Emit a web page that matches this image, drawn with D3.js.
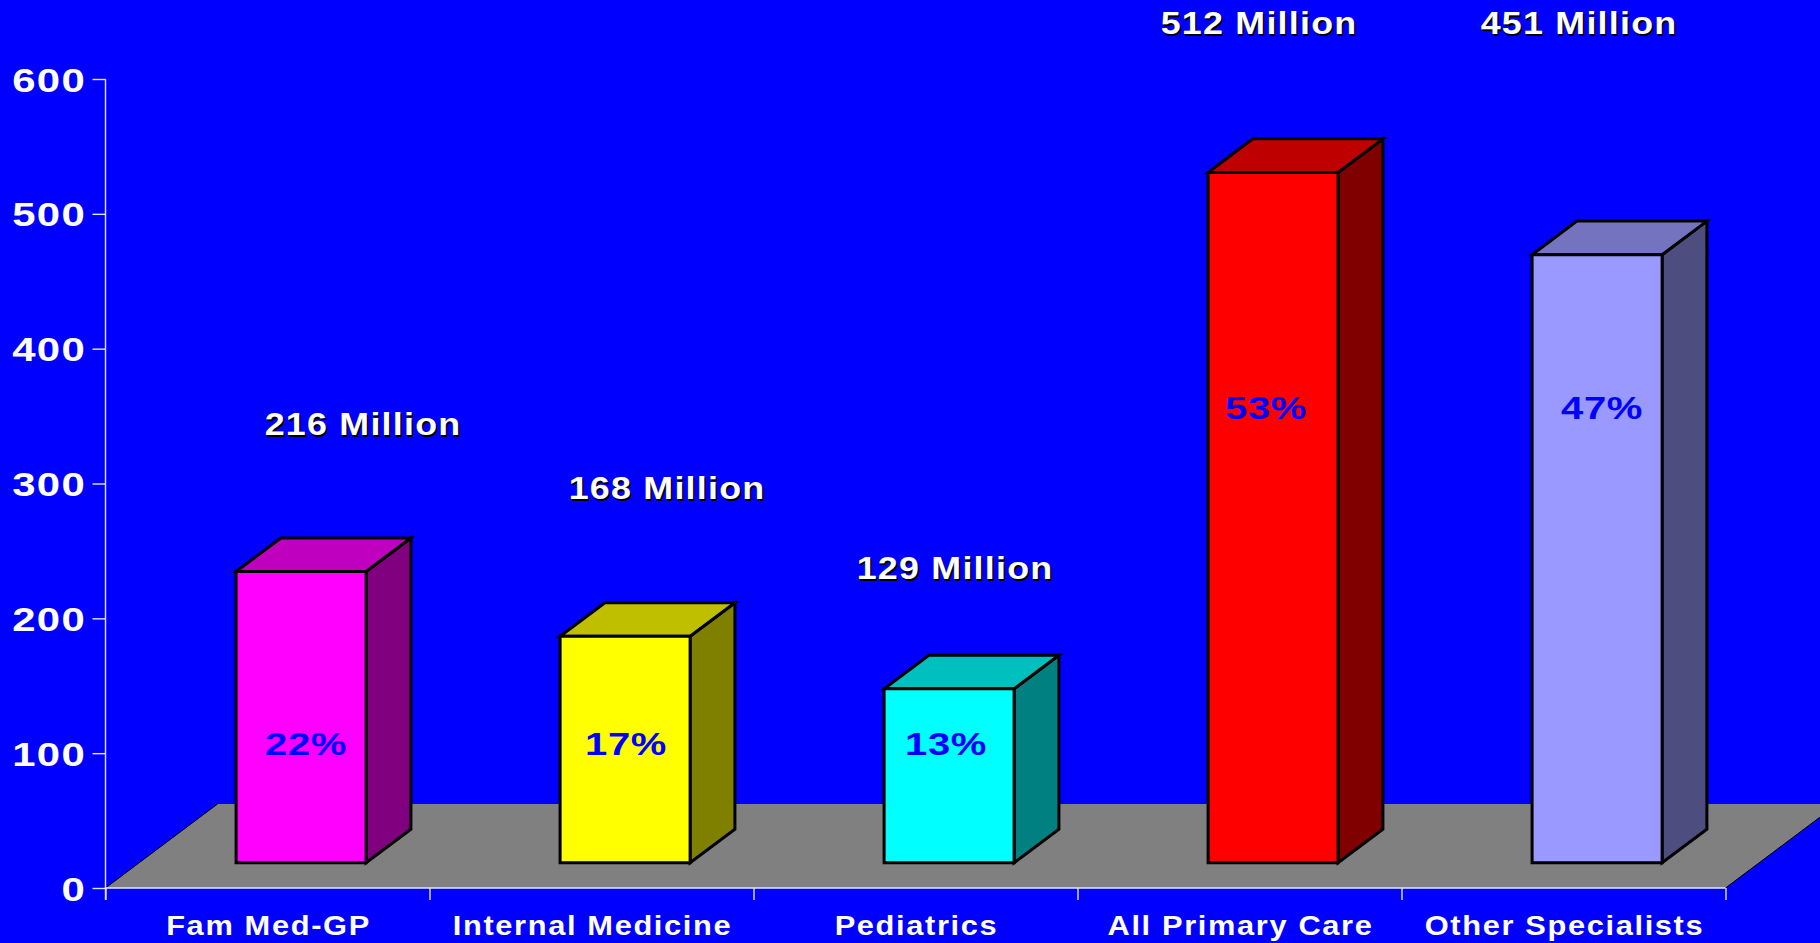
<!DOCTYPE html>
<html>
<head>
<meta charset="utf-8">
<style>
html,body{margin:0;padding:0;background:#0000ff;overflow:hidden}
svg{display:block}
text{font-family:"Liberation Sans",Arial,sans-serif;font-weight:700}
</style>
<script src="https://cdn.jsdelivr.net/npm/d3@7/dist/d3.min.js"></script>
</head>
<body>
<svg id="chart" width="1820" height="943"></svg>
<script>
// Office visits by physician group
const categories = ["Fam Med-GP", "Internal Medicine", "Pediatrics", "All Primary Care", "Other Specialists"];
const visits = [216, 168, 129, 512, 451];
const shares = [22, 17, 13, 53, 47];
const yTicks = [0, 100, 200, 300, 400, 500, 600];

// Face colours per bar: front, top, side
const frontColors = ["#ff00ff", "#ffff00", "#00ffff", "#ff0000", "#9999ff"];
const topColors = ["#bf00bf", "#bfbf00", "#00bfbf", "#bf0000", "#7373bf"];
const sideColors = ["#800080", "#808000", "#008080", "#800000", "#4d4d80"];

// Hand-placed annotation offsets
const millionX = [363, 667, 955, 1259, 1579];
const millionBaseline = [435, 499, 579, 34, 34];
const shareX = [306, 626, 946, 1266, 1602];
const shareBaseline = [755, 755, 755, 419, 419];

const svg = d3.select("#chart");
const x = d3.scaleBand().domain(categories).range([105.5, 1725.5]);
const y = d3.scaleLinear().domain([0, 600]).range([888, 79]);

// Oblique projection of the floor and the bars standing on it
const floorDx = 112, floorDy = 84;
const barInset = 0.3, barDepth = 0.4, barWidth = 130;

const x0 = x.range()[0], x1 = x.range()[1], y0 = y(0);

svg.append("polygon")
  .attr("points", [[x0, y0], [x1, y0], [x1 + floorDx, y0 - floorDy], [x0 + floorDx, y0 - floorDy]].join(" "))
  .attr("fill", "#808080");
svg.append("path")
  .attr("d", `M${x0},${y0}L${x0 + floorDx},${y0 - floorDy}M${x1},${y0}L${x1 + floorDx},${y0 - floorDy}`)
  .attr("fill", "none").attr("stroke", "#000").attr("stroke-width", 1);

// Bars
const bars = svg.selectAll("g.bar").data(categories).join("g").attr("class", "bar");
bars.each(function (c, i) {
  const g = d3.select(this);
  const cx = x(c) + x.bandwidth() / 2 + floorDx * barInset;
  const l = cx - barWidth / 2, r = cx + barWidth / 2;
  const lift = floorDy * barInset;
  const b = y0 - lift, t = y(visits[i]) - lift;
  const dx = floorDx * barDepth, dy = floorDy * barDepth;
  const face = (pts, fill) => g.append("polygon")
    .attr("points", pts.join(" ")).attr("fill", fill)
    .attr("stroke", "#000").attr("stroke-width", 3).attr("stroke-linejoin", "miter");
  face([[r, t], [r + dx, t - dy], [r + dx, b - dy], [r, b]], sideColors[i]);
  face([[l, t], [l + dx, t - dy], [r + dx, t - dy], [r, t]], topColors[i]);
  face([[l, t], [r, t], [r, b], [l, b]], frontColors[i]);
});

// Axes
const axisColor = "#e4e4ff";
const yAxis = svg.append("g").attr("transform", `translate(${x0},0)`)
  .call(d3.axisLeft(y).tickValues(yTicks).tickSize(13).tickFormat(() => ""));
const xAxis = svg.append("g").attr("transform", `translate(0,${y0})`)
  .call(d3.axisBottom(d3.scaleLinear().domain([0, categories.length]).range([x0, x1]))
    .tickValues(d3.range(categories.length + 1)).tickSize(12).tickFormat(() => ""));
[yAxis, xAxis].forEach(a => {
  a.selectAll("path,line").attr("stroke", axisColor).attr("stroke-width", 1.4);
  a.select("path.domain").attr("fill", "none");
});
yAxis.select("path.domain").attr("d", `M0,${y(600)}V${y0 + 12}`);
xAxis.select("path.domain").attr("d", `M${x0},0H${x1}`);

// Text is widened horizontally and tracked out to the slide's extended bold face
function label(parent, str, px, py, size, stretch, tracking, fill, anchor) {
  return parent.append("text")
    .attr("transform", `translate(${px},${py}) scale(${stretch},1)`)
    .attr("font-size", size).attr("letter-spacing", tracking).attr("fill", fill)
    .attr("text-anchor", anchor || "middle").text(str);
}

yTicks.forEach(v => label(svg, String(v), 86, y(v) + 12.5, 33, 1.27, 1, "#fff", "end"));
categories.forEach(c => label(svg, c, x(c) + x.bandwidth() / 2 + 1, 935, 28, 1.1, 1.5, "#fff"));

visits.forEach((v, i) => {
  const t = `${v} Million`;
  label(svg, t, millionX[i] + 1.5, millionBaseline[i] + 1.5, 32, 1.12, 1.1, "#000");
  label(svg, t, millionX[i], millionBaseline[i], 32, 1.12, 1.1, "#fff");
});
shares.forEach((s, i) => label(svg, `${s}%`, shareX[i], shareBaseline[i], 32, 1.25, 0.5, "#0000ff"));
</script>
</body>
</html>
